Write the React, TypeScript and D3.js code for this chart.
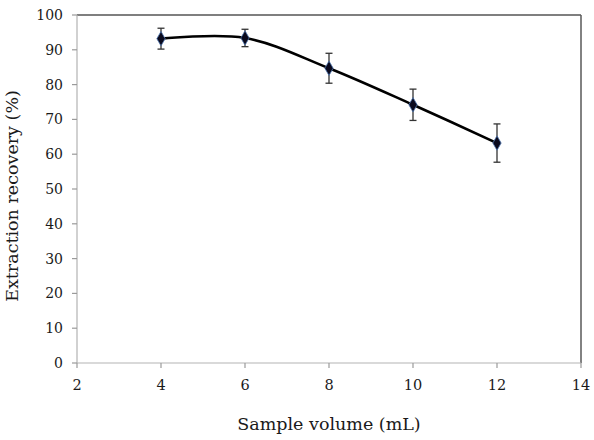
import React from "react";
import * as d3 from "d3";

// Sample volume (mL) vs. extraction recovery (%), mean ± SD
const volumes = [4, 6, 8, 10, 12];
const recovery = [93.2, 93.4, 84.7, 74.2, 63.2];
const errors = [3.0, 2.5, 4.3, 4.5, 5.5];
const xTicks = [2, 4, 6, 8, 10, 12, 14];
const yTicks = [0, 10, 20, 30, 40, 50, 60, 70, 80, 90, 100];

const W = 594;
const H = 440;
const margin = { top: 15, right: 13, bottom: 77, left: 77 };
const serif = "DejaVu Serif";

export default function App() {
  const x = d3
    .scaleLinear()
    .domain([2, 14])
    .range([margin.left, W - margin.right]);
  const y = d3
    .scaleLinear()
    .domain([0, 100])
    .range([H - margin.bottom, margin.top]);

  const points = volumes.map((v, i) => ({ v, r: recovery[i], e: errors[i] }));

  const line = d3
    .line<{ v: number; r: number }>()
    .x(d => x(d.v))
    .y(d => y(d.r))
    .curve(d3.curveCatmullRom.alpha(0.5));

  const diamond = d3.symbol(d3.symbolDiamond, 60)();

  const x0 = x(2);
  const x1 = x(14);
  const y0 = y(0);
  const y1 = y(100);

  return (
    <svg
      width={W}
      height={H}
      style={{ position: "absolute", left: 0, top: 0, background: "#fff" }}
      fontFamily={serif}
    >
      {/* plot frame: light axes on left/bottom, darker edges on top/right */}
      <line x1={x0} y1={y1} x2={x1} y2={y1} stroke="#7f7f7f" strokeWidth={2} />
      <line x1={x1} y1={y1} x2={x1} y2={y0} stroke="#595959" strokeWidth={1.5} />
      <line x1={x0} y1={y1} x2={x0} y2={y0} stroke="#b3b3b3" strokeWidth={1.2} />
      <line x1={x0} y1={y0} x2={x1} y2={y0} stroke="#b3b3b3" strokeWidth={1.2} />

      {/* y axis ticks and labels */}
      {yTicks.map(t => (
        <g key={"y" + t}>
          <line x1={x0 - 5} x2={x0} y1={y(t)} y2={y(t)} stroke="#9a9a9a" strokeWidth={1.2} />
          <text
            x={x0 - 14}
            y={y(t)}
            dy="0.36em"
            textAnchor="end"
            fontSize={14}
            fill="#1a1a1a"
          >
            {t}
          </text>
        </g>
      ))}

      {/* x axis ticks and labels */}
      {xTicks.map(t => (
        <g key={"x" + t}>
          <line x1={x(t)} x2={x(t)} y1={y0} y2={y0 + 5} stroke="#9a9a9a" strokeWidth={1.2} />
          <text
            x={x(t)}
            y={y0 + 27}
            textAnchor="middle"
            fontSize={14.5}
            fill="#1a1a1a"
          >
            {t}
          </text>
        </g>
      ))}

      {/* axis titles */}
      <text
        x={(x0 + x1) / 2}
        y={430}
        textAnchor="middle"
        fontSize={17.5}
        fill="#1a1a1a"
      >
        Sample volume (mL)
      </text>
      <text
        transform={`translate(18,${(y0 + y1) / 2 + 7}) rotate(-90)`}
        textAnchor="middle"
        fontSize={17.5}
        fill="#1a1a1a"
      >
        Extraction recovery (%)
      </text>

      {/* smoothed line */}
      <path d={line(points) || ""} fill="none" stroke="#000" strokeWidth={2.6} />

      {/* error bars */}
      {points.map(p => (
        <g key={"e" + p.v} stroke="#333" strokeWidth={1.3}>
          <line x1={x(p.v)} x2={x(p.v)} y1={y(p.r + p.e)} y2={y(p.r - p.e)} />
          <line x1={x(p.v) - 3.5} x2={x(p.v) + 3.5} y1={y(p.r + p.e)} y2={y(p.r + p.e)} />
          <line x1={x(p.v) - 3.5} x2={x(p.v) + 3.5} y1={y(p.r - p.e)} y2={y(p.r - p.e)} />
        </g>
      ))}

      {/* diamond markers */}
      {points.map(p => (
        <path
          key={"m" + p.v}
          d={diamond || ""}
          transform={`translate(${x(p.v)},${y(p.r)})`}
          fill="#0a0a1e"
          stroke="#4f76b0"
          strokeWidth={0.8}
        />
      ))}
    </svg>
  );
}
